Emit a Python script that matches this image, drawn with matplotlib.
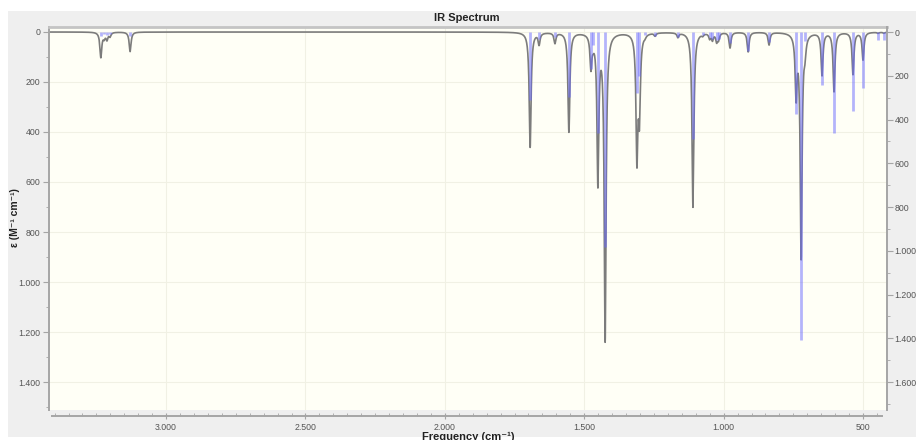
import numpy as np
import matplotlib
matplotlib.use("Agg")
import matplotlib.pyplot as plt
from matplotlib.patches import Rectangle
from matplotlib.ticker import MultipleLocator, FuncFormatter

plt.rcParams["font.family"] = ["Liberation Sans", "DejaVu Sans"]

# Computed vibrational modes (cm-1)
band_freq = [3234, 3222, 3212, 3201, 3129,
             1694, 1662, 1605, 1555, 1476, 1468, 1451, 1425, 1311, 1302,
             1282, 1246, 1164, 1110, 1075, 1050, 1040, 1025, 1018,
             977, 912, 837, 740, 722, 708, 647, 604, 536, 500, 446, 425]
# Peak height of each broadened band (M-1 cm-1)
band_eps = [100, 20, 28, 16, 78,
            460, 46, 42, 398, 130, 20, 590, 1225, 490, 310,
            8, 12, 18, 700, 8, 22, 28, 34, 26,
            62, 78, 50, 240, 895, 55, 170, 236, 168, 110, 4, 4]
# Stick intensities (KM/Mole)
stick_int = [18, 10, 14, 8, 20,
             309, 34, 25, 295, 170, 60, 460, 985, 277, 200,
             15, 20, 25, 490, 15, 25, 30, 35, 30,
             48, 89, 45, 377, 1406, 40, 240, 460, 363, 254, 35, 35]

hwhm = 4.0  # Lorentzian half-width at half height

freq = np.arange(405.0, 3425.0, 0.25)
eps = np.zeros_like(freq)
for c, h in zip(band_freq, band_eps):
    eps += h * hwhm**2 / (hwhm**2 + (freq - c)**2)


def dot_thousands(v, pos):
    return f"{v:,.0f}".replace(",", ".")


W, H = 916, 440
fig = plt.figure(figsize=(W / 100, H / 100), dpi=100)
fig.patch.set_facecolor("white")
fig.patches.append(Rectangle((8 / W, 3 / H), (W - 8) / W, 426 / H,
                             transform=fig.transFigure, facecolor="#efefef",
                             edgecolor="none", zorder=-5))

ax = fig.add_axes([49 / W, 1 - 410 / H, 838 / W, 383 / H])
ax.set_facecolor("#fffff6")
ax.plot(freq, eps, color="#7c7c7c", lw=1.2, zorder=2)
ax.set_xlim(3420, 414)
ax.set_ylim(1512, -20)

ax2 = ax.twinx()
ax2.vlines(band_freq, 0, stick_int, color="#6a6aff", alpha=0.5, lw=2, zorder=3)
ax2.set_ylim(1728, -23)

ax.set_axisbelow(True)
ax.grid(True, which="major", color="#f1f1e4", lw=0.8)

fmt = FuncFormatter(dot_thousands)
ax.xaxis.set_major_locator(MultipleLocator(500))
ax.xaxis.set_minor_locator(MultipleLocator(50))
ax.yaxis.set_major_locator(MultipleLocator(200))
ax.yaxis.set_minor_locator(MultipleLocator(100))
ax2.yaxis.set_major_locator(MultipleLocator(200))
ax2.yaxis.set_minor_locator(MultipleLocator(100))
ax.xaxis.set_major_formatter(fmt)
ax.yaxis.set_major_formatter(fmt)
ax2.yaxis.set_major_formatter(fmt)

axis_grey = "#a5a5a5"
label_grey = "#555555"
ax.tick_params(axis="x", which="major", direction="inout", length=5,
               color=axis_grey, labelsize=6.3, labelcolor=label_grey, pad=2.5)
ax.tick_params(axis="x", which="minor", direction="in", length=2.5, color=axis_grey)
ax.tick_params(axis="y", which="major", direction="out", length=4,
               color=axis_grey, labelsize=6.3, labelcolor=label_grey, pad=2)
ax.tick_params(axis="y", which="minor", direction="out", length=2.5, color=axis_grey)
ax2.tick_params(axis="y", which="major", direction="out", length=4,
                color=axis_grey, labelsize=6.3, labelcolor=label_grey, pad=1.5)
ax2.tick_params(axis="y", which="minor", direction="out", length=2.5, color=axis_grey)

ax.spines["top"].set_color("#c4c4c4")
ax.spines["top"].set_linewidth(2)
ax.spines["left"].set_color(axis_grey)
ax.spines["left"].set_linewidth(1.4)
ax.spines["right"].set_visible(False)
ax.spines["bottom"].set_position(("outward", 4.5))
ax.spines["bottom"].set_color(axis_grey)
ax.spines["bottom"].set_linewidth(1.4)
ax.spines["bottom"].set_bounds(3408, 432)
for side in ("top", "left", "bottom"):
    ax2.spines[side].set_visible(False)
ax2.spines["right"].set_color(axis_grey)
ax2.spines["right"].set_linewidth(1.4)

fig.text(467 / W, 1 - 18 / H, "IR Spectrum", ha="center", va="center",
         fontsize=8, fontweight="bold", color="#222222")
fig.text(15 / W, 1 - 218 / H, "ε (M⁻¹ cm⁻¹)", ha="center", va="center",
         rotation=90, fontsize=7.5, fontweight="bold", color="#222222")
fig.text(923 / W, 1 - 218 / H, "Intensity (KM/Mole)", ha="center", va="center",
         rotation=90, fontsize=7.5, fontweight="bold", color="#222222")
fig.text(468 / W, 1 - 432 / H, "Frequency (cm⁻¹)", ha="center", va="top",
         fontsize=8, fontweight="bold", color="#222222")

fig.savefig("out.png", dpi=100)
